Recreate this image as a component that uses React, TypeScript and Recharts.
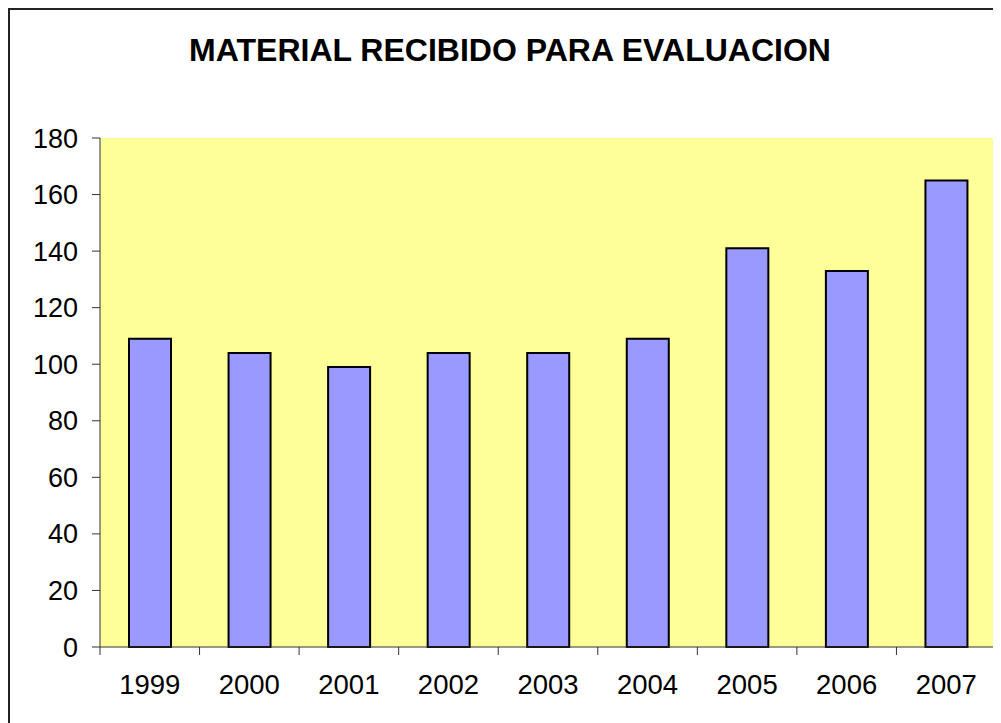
import { BarChart, Bar, XAxis, YAxis, CartesianGrid } from "recharts"

const years = ["1999", "2000", "2001", "2002", "2003", "2004", "2005", "2006", "2007"]
const received = [109, 104, 99, 104, 104, 109, 141, 133, 165]
const yTicks = [0, 20, 40, 60, 80, 100, 120, 140, 160, 180]

const data = years.map((year, i) => ({ year, value: received[i] }))

const font = "'Liberation Sans', Arial, sans-serif"

// Excel-style category axis: tick marks sit between categories, labels centred
function YearTick(props: any) {
  const { x, y, payload, index, visibleTicksCount } = props
  const half = payload.offset ?? 0
  const isLast = index === visibleTicksCount - 1
  return (
    <g>
      <line x1={x - half} x2={x - half} y1={y - 20} y2={y - 12} stroke="#333" />
      {isLast && <line x1={x + half} x2={x + half} y1={y - 20} y2={y - 12} stroke="#333" />}
      <text x={x} y={y + 7} dy="0.71em" textAnchor="middle" fontSize={27.5} fill="#000" fontFamily={font}>
        {payload.value}
      </text>
    </g>
  )
}

export default function App() {
  return (
    <div
      style={{
        position: "relative",
        width: 991,
        height: 713,
        borderTop: "2px solid #222",
        borderLeft: "2px solid #222",
        fontFamily: font,
      }}
    >
      <div
        style={{
          position: "absolute",
          left: 0,
          top: 24,
          width: 1000,
          textAlign: "center",
          fontSize: 32,
          fontWeight: "bold",
          lineHeight: "32px",
          color: "#000",
        }}
      >
        MATERIAL RECIBIDO PARA EVALUACION
      </div>
      <BarChart
        width={991}
        height={713}
        data={data}
        margin={{ top: 128, right: 5, left: 0, bottom: 0 }}
        barSize={42}
      >
        <CartesianGrid fill="#FFFF99" horizontal={false} vertical={false} />
        <XAxis
          dataKey="year"
          height={76}
          tickLine={false}
          stroke="#333"
          tickSize={8}
          tickMargin={12}
          tick={<YearTick />}
          interval={0}
        />
        <YAxis
          domain={[0, 180]}
          ticks={yTicks}
          width={90}
          tickSize={8}
          tickMargin={14}
          stroke="#333"
          tick={{ fontSize: 27, fill: "#000", fontFamily: font }}
        />
        <Bar
          dataKey="value"
          fill="#9999FF"
          stroke="#000"
          strokeWidth={2}
          isAnimationActive={false}
        />
      </BarChart>
    </div>
  )
}
